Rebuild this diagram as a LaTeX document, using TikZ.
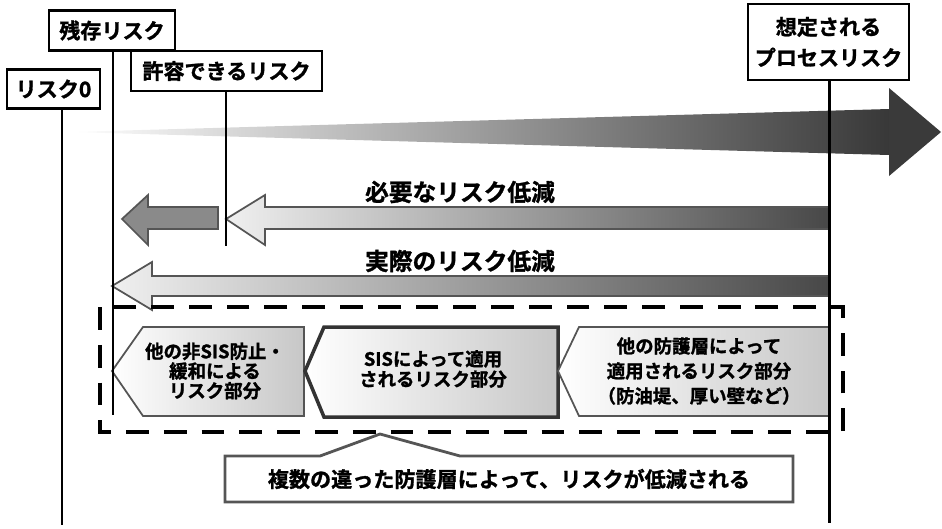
\documentclass[tikz,border=0pt]{standalone}
\usepackage{fontspec}
\setmainfont{Noto Sans CJK JP}[BoldFont={Noto Sans CJK JP Bold}, BoldFeatures={FakeBold=1.3}]
\usepackage{xcolor}
\usetikzlibrary{positioning}

\definecolor{headgray}{HTML}{3A3A3A}
\definecolor{edgegray}{HTML}{555555}
\definecolor{stepgray}{HTML}{8A8A8A}

\tikzset{
	tag/.style={draw, line width=1.5pt, fill=white, inner sep=0pt, align=center,
		font=\bfseries\fontsize{12}{14}\selectfont},
	riskline/.style={line width=1.7pt},
	reduce/.style={font=\bfseries\fontsize{13.5}{16}\selectfont},
	part/.style={align=center, font=\bfseries\fontsize{10.5}{11.2}\selectfont},
	blockarrow/.style={draw=edgegray, line width=1pt},
	layerbox/.style={draw=edgegray, line width=1pt, left color=white, right color=black!22},
}

\begin{document}
\begin{tikzpicture}[x=0.02cm,y=-0.02cm]
		\useasboundingbox (0,0) rectangle (942,528);
		%
		% growing process risk
		\shade[left color=white, right color=black!78]
		(70,132) -- (889,109) -- (889,155) -- cycle;
		\fill[headgray] (889,88) -- (941,132) -- (889,176) -- cycle;
		%
		% reduction arrows
		\draw[blockarrow, left color=black!6, right color=black!72]
		(226,219) -- (265,195) -- (265,207) -- (830,207) -- (830,229)
		-- (265,229) -- (265,245) -- cycle;
		\draw[blockarrow, fill=stepgray]
		(122,219) -- (148,195) -- (148,207) -- (218,207) -- (218,229)
		-- (148,229) -- (148,245) -- cycle;
		\draw[blockarrow, left color=black!6, right color=black!72]
		(112,286) -- (152,262) -- (152,276) -- (830,276) -- (830,296)
		-- (152,296) -- (152,310) -- cycle;
		\node[reduce] (need) at (460,192) {必要なリスク低減};
		\node[reduce] (actual) at (460,261) {実際のリスク低減};
		%
		% layers of protection
		\draw[line width=2.3pt, dash pattern=on 13pt off 8.5pt] (100,307) rectangle (843,432);
		\draw[layerbox] (112,371) -- (143,327) -- (304,327) -- (304,416) -- (143,416) -- cycle;
		\draw[layerbox, draw=black!80, line width=2pt] (305,371) -- (324,327) -- (558,327) -- (558,417) -- (324,417) -- cycle;
		\draw[layerbox] (558,371) -- (579,327) -- (830,327) -- (830,416) -- (579,416) -- cycle;
		\node[part] (other) at (215,371) {他の非SIS防止・\\緩和による\\リスク部分};
		\node[part, font=\bfseries\fontsize{10.5}{11.5}\selectfont] (sis) at (433,369) {SISによって適用\\されるリスク部分};
		\node[part, font=\bfseries\fontsize{10.5}{14.2}\selectfont] (layer) at (699,371) {他の防護層によって\\適用されるリスク部分\\（防油堤、厚い壁など）};
		%
		\draw[draw=edgegray, line width=1.6pt, fill=white]
		(225,456) -- (320,456) -- (380,434) -- (460,456) -- (793,456) -- (793,502) -- (225,502) -- cycle;
		\node[font=\bfseries\fontsize{12}{14}\selectfont] (many) at (509,479) {複数の違った防護層によって、リスクが低減される};
		%
		% risk levels
		\coordinate (zeroend) at (62,525);
		\coordinate (residend) at (113,415);
		\coordinate (tolerend) at (226,246);
		\coordinate (procend) at (829,523);
		\node[tag, minimum width=1.86cm, minimum height=0.78cm] (zero) at (53.5,89) {リスク0};
		\node[tag, minimum width=2.52cm, minimum height=0.8cm] (resid) at (112,30.5) {残存リスク};
		\node[tag, minimum width=3.82cm, minimum height=0.8cm] (toler) at (226.5,71) {許容できるリスク};
		\node[tag, minimum width=3.22cm, minimum height=1.52cm, font=\bfseries\fontsize{12}{17.5}\selectfont] (proc) at (828.5,42) {想定される\\プロセスリスク};
		\draw[riskline] (zero.south -| zeroend) -- (zeroend);
		\draw[riskline] (resid.south -| residend) -- (residend);
		\draw[riskline] (toler.south -| tolerend) -- (tolerend);
		\draw[riskline] (proc.south -| procend) -- (procend);
\end{tikzpicture}
\end{document}
